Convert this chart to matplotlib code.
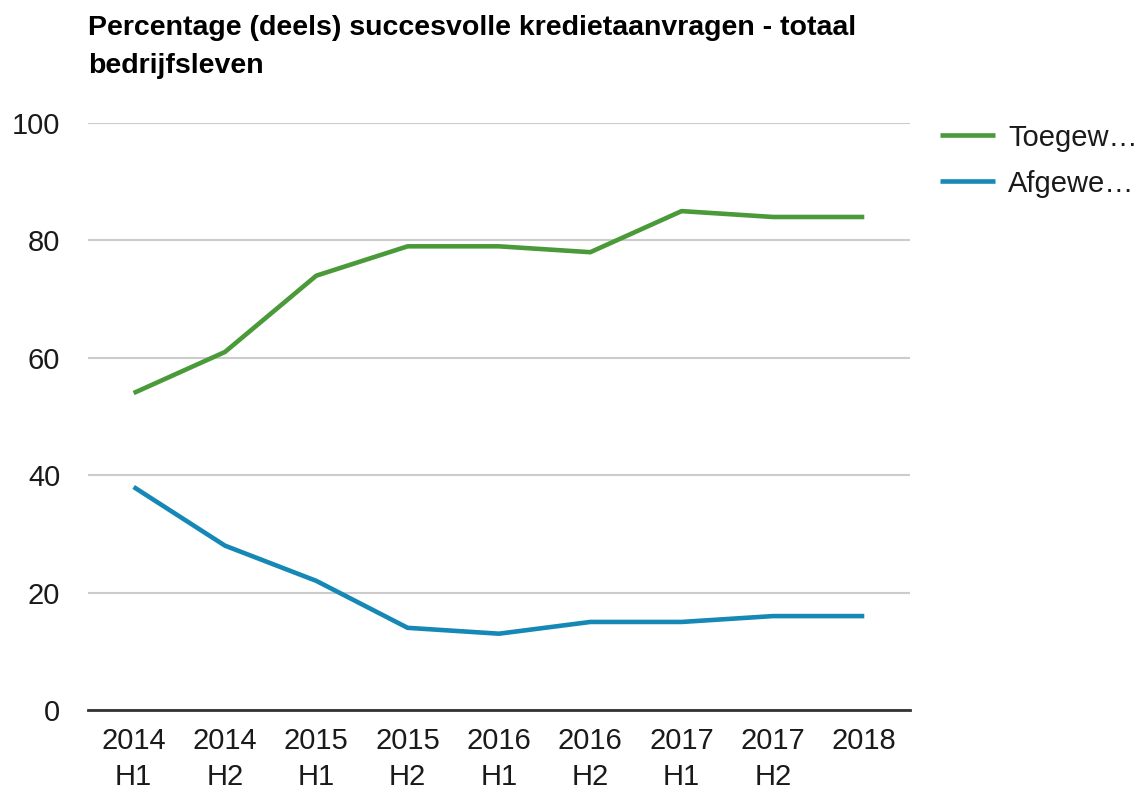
import matplotlib.pyplot as plt

plt.rcParams['font.family'] = ['Liberation Sans', 'DejaVu Sans']

categories = ['2014\nH1', '2014\nH2', '2015\nH1', '2015\nH2', '2016\nH1',
              '2016\nH2', '2017\nH1', '2017\nH2', '2018']
toegewezen = [54, 61, 74, 79, 79, 78, 85, 84, 84]
afgewezen = [38, 28, 22, 14, 13, 15, 15, 16, 16]
series_labels = ['Toegew…', 'Afgewe…']
y_ticks = [0, 20, 40, 60, 80, 100]

fig = plt.figure(figsize=(11.38, 7.94), dpi=100)
ax = fig.add_axes([0.0773, 0.1058, 0.7223, 0.7392])

x = range(len(categories))
ax.plot(x, toegewezen, color='#4a9a3a', lw=3.3, label=series_labels[0],
        solid_capstyle='butt', zorder=3)
ax.plot(x, afgewezen, color='#1588b6', lw=3.3, label=series_labels[1],
        solid_capstyle='butt', zorder=3)

ax.set_xlim(-0.5, len(categories) - 0.5)
ax.set_ylim(0, 100)
ax.set_yticks(y_ticks)
ax.set_xticks(list(x))
ax.set_xticklabels(categories, linespacing=1.4)
ax.tick_params(axis='y', length=0, pad=20, labelsize=21, colors='#1a1a1a')
ax.tick_params(axis='x', length=0, pad=12, labelsize=21, colors='#1a1a1a')
ax.grid(axis='y', color='#cccccc', lw=1.5)
ax.set_axisbelow(True)
for s in ['top', 'right', 'left']:
    ax.spines[s].set_visible(False)
ax.spines['bottom'].set_color('#333333')
ax.spines['bottom'].set_linewidth(2)
ax.spines['bottom'].set_zorder(4)

fig.text(0.0773, 0.981, 'Percentage (deels) succesvolle kredietaanvragen - totaal\nbedrijfsleven',
         fontsize=20.5, fontweight='bold', ha='left', va='top', linespacing=1.58)

ax.legend(loc='upper left', bbox_to_anchor=(1.022, 1.019), frameon=False,
          fontsize=21, handlelength=1.9, handletextpad=0.45, labelspacing=0.62,
          labelcolor='#1a1a1a', borderaxespad=0)

fig.savefig('out.png', dpi=100)
